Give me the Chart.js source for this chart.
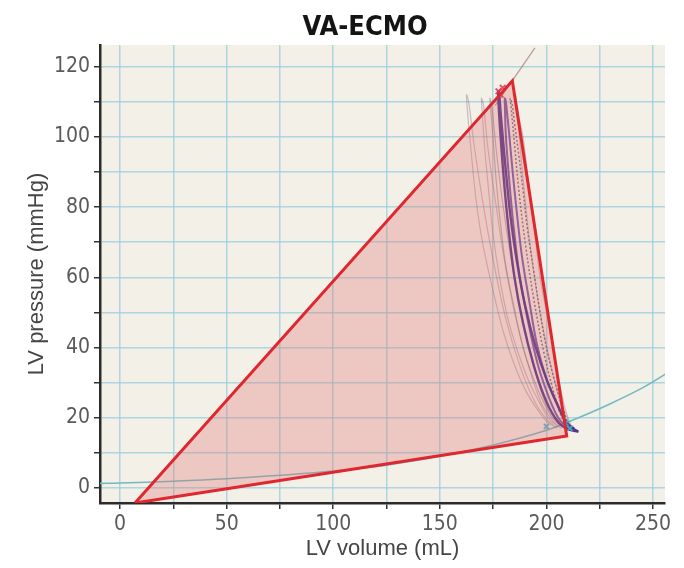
<!DOCTYPE html>
<html>
<head>
<meta charset="utf-8">
<script src="https://cdn.jsdelivr.net/npm/chart.js@4.4.0/dist/chart.umd.min.js"></script>
<style>
  html, body { margin: 0; padding: 0; background: #ffffff; }
  canvas { display: block; }
</style>
</head>
<body>
<canvas id="pv" width="684" height="568"></canvas>
<script>
// Axis ticks (mL / mmHg); only the labelled ones carry text
const volumeTicks = [0, 25, 50, 75, 100, 125, 150, 175, 200, 225, 250];
const volumeLabels = [0, 50, 100, 150, 200, 250];
const pressureTicks = [0, 10, 20, 30, 40, 50, 60, 70, 80, 90, 100, 110, 120];
const pressureLabels = [0, 20, 40, 60, 80, 100, 120];

// Triangle enclosing the loops: origin corner, end-systolic corner, end-diastolic corner
const triangleVol = [7, 184, 209.5, 7];
const trianglePrs = [-4.3, 116, 14.8, -4.3];

// End-systolic pressure-volume relation, top segment
const espvrVol = [176, 194.6];
const espvrPrs = [109, 125.4];

// End-diastolic pressure-volume relation
const edpvrVol = [-10, 0, 25, 50, 75, 100, 125, 150, 175, 200, 215, 230, 245, 256];
const edpvrPrs = [1.3, 1.4, 1.9, 2.6, 3.6, 4.8, 6.5, 9.0, 12.2, 16.4, 20.0, 24.0, 28.5, 32.5];

// Recorded beats
const beat1Vol = [215, 210, 205, 200, 195, 190, 186, 183, 181, 179.5, 178.5, 178, 177.5, 177.5, 178.5, 180, 182, 185, 189, 194, 199, 204, 209, 215];
const beat1Prs = [16, 18, 24, 31, 40, 52, 65, 78, 90, 100, 107, 111, 113, 110, 100, 88, 75, 60, 47, 35, 26, 20, 17, 16];
const beat2Vol = [213, 209, 204, 199.5, 195.5, 192, 188.5, 186, 184, 182.5, 181.5, 181, 180.5, 180.5, 181, 182.5, 184.5, 187.5, 191.5, 196, 201, 205.5, 209.5, 213];
const beat2Prs = [17, 19, 25, 32, 41, 53, 66, 79, 91, 101, 107, 110, 111, 109, 100, 88, 75, 60, 47, 35, 26, 20, 17.5, 17];
const beat3Vol = [211, 208, 204, 200, 197, 194, 191, 189, 187, 185, 184, 183, 183.5, 185, 187, 190, 194, 199, 204, 208, 211];
const beat3Prs = [17, 22, 30, 40, 50, 62, 74, 85, 95, 104, 109, 111, 108, 98, 85, 70, 54, 38, 26, 19, 17];
const beat4Vol = [205, 200, 195, 190, 185, 180, 175, 170, 167, 164.5, 163, 162.5, 163.5, 166, 170, 175, 181, 188, 195, 201, 205];
const beat4Prs = [17, 19, 23, 28, 35, 44, 56, 70, 82, 97, 107, 112, 110, 98, 82, 65, 48, 34, 24, 19, 17];
const beat5Vol = [207, 202, 197, 192, 187, 182, 178, 175, 173, 171, 170, 169.5, 170.5, 172.5, 176, 180, 185, 191, 197, 203, 207];
const beat5Prs = [17, 19, 24, 30, 38, 48, 60, 72, 84, 97, 106, 111, 109, 97, 82, 66, 50, 36, 25, 19, 17];
const beat6Vol = [212, 209, 206, 203, 200, 197, 195, 193, 191, 189, 187, 186, 185.5, 186.5, 188, 190, 193, 197, 202, 207, 212];
const beat6Prs = [17, 22, 30, 40, 50, 60, 70, 80, 90, 100, 106, 110, 112, 106, 95, 82, 66, 50, 35, 24, 17];
const beat7Vol = [209, 204, 199, 194, 189, 185, 181, 178.5, 176.5, 175, 174, 173.5, 174.5, 176.5, 179.5, 183.5, 188, 193.5, 199, 204, 209];
const beat7Prs = [17, 19, 24, 31, 40, 51, 63, 75, 87, 99, 107, 111, 108, 96, 81, 65, 50, 36, 25, 19, 17];

// Beat markers: end-systole (top) and end-diastole (bottom)
const esMarkVol = [177.5, 178.5, 179.5];
const esMarkPrs = [113, 112, 114];
const edMarkVol = [200, 209, 211];
const edMarkPrs = [17.5, 18.5, 17];

const pts = (xs, ys) => xs.map((x, i) => ({ x: x, y: ys[i] }));

const beatLine = (xs, ys, color, width, dash, order) => ({
  data: pts(xs, ys),
  showLine: true,
  borderColor: color,
  borderWidth: width,
  borderDash: dash || [],
  pointRadius: 0,
  tension: 0.35,
  fill: false,
  order: order
});

// Paints the plotting area and places the heading
const plotBackground = {
  id: 'plotBackground',
  beforeDraw(chart) {
    const { ctx, chartArea: a } = chart;
    ctx.save();
    ctx.fillStyle = '#f3f0e7';
    ctx.fillRect(a.left, a.top, a.right - a.left, a.bottom - a.top);
    ctx.restore();
  },
  afterDraw(chart) {
    const ctx = chart.ctx;
    ctx.save();
    ctx.font = 'bold 27px "Liberation Sans Narrow", "DejaVu Sans Condensed", sans-serif';
    ctx.fillStyle = '#141414';
    ctx.textAlign = 'center';
    ctx.textBaseline = 'middle';
    ctx.fillText('VA-ECMO', 365, 28);
    ctx.restore();
  }
};

const tickFont = { family: '"Liberation Sans Narrow", "DejaVu Sans Condensed", sans-serif', size: 21 };
const titleFont = { family: '"Liberation Sans", Arial, sans-serif', size: 22 };

new Chart(document.getElementById('pv'), {
  type: 'scatter',
  data: {
    datasets: [
      {
        data: pts(triangleVol, trianglePrs),
        showLine: true,
        borderColor: '#e0262e',
        borderWidth: 3,
        backgroundColor: 'rgba(226, 108, 108, 0.30)',
        fill: 'shape',
        pointRadius: 0,
        tension: 0,
        order: 1
      },
      {
        data: pts(espvrVol, espvrPrs),
        showLine: true,
        borderColor: 'rgba(165, 130, 130, 0.75)',
        borderWidth: 1.3,
        pointRadius: 0,
        fill: false,
        order: 9
      },
      {
        data: pts(edpvrVol, edpvrPrs),
        showLine: true,
        borderColor: '#74b9c2',
        borderWidth: 1.6,
        pointRadius: 0,
        tension: 0.4,
        fill: false,
        order: 8
      },
      beatLine(beat4Vol, beat4Prs, 'rgba(140, 105, 125, 0.40)', 1.2, null, 7),
      beatLine(beat5Vol, beat5Prs, 'rgba(140, 105, 125, 0.40)', 1.2, null, 7),
      beatLine(beat7Vol, beat7Prs, 'rgba(120, 95, 115, 0.45)', 1.2, null, 7),
      beatLine(beat6Vol, beat6Prs, 'rgba(140, 105, 125, 0.40)', 1.2, null, 7),
      beatLine(beat3Vol, beat3Prs, 'rgba(75, 60, 80, 0.70)', 1.5, [2, 2], 5),
      beatLine(beat2Vol, beat2Prs, 'rgba(95, 65, 160, 0.85)', 2.0, null, 4),
      beatLine(beat1Vol, beat1Prs, 'rgba(65, 35, 130, 0.90)', 2.4, null, 3),
      {
        data: pts(esMarkVol, esMarkPrs),
        pointStyle: 'crossRot',
        pointRadius: 4,
        pointBorderWidth: 2,
        borderColor: 'rgba(215, 50, 70, 0.8)',
        backgroundColor: 'rgba(215, 50, 70, 0.8)',
        order: 2
      },
      {
        data: pts(edMarkVol, edMarkPrs),
        pointStyle: 'crossRot',
        pointRadius: 3.5,
        pointBorderWidth: 2,
        borderColor: 'rgba(70, 175, 200, 0.85)',
        backgroundColor: 'rgba(70, 175, 200, 0.85)',
        order: 2
      }
    ]
  },
  options: {
    responsive: false,
    animation: false,
    events: [],
    layout: { padding: { top: 45, right: 19, bottom: 0, left: 0 } },
    plugins: {
      legend: { display: false },
      tooltip: { enabled: false },
      title: { display: false }
    },
    scales: {
      x: {
        type: 'linear',
        min: -9.4,
        max: 255.6,
        afterBuildTicks: (s) => { s.ticks = volumeTicks.map(v => ({ value: v })); },
        afterFit: (s) => { s.height = 65; },
        ticks: {
          autoSkip: false,
          maxRotation: 0,
          padding: 3,
          color: '#5a5a5a',
          font: tickFont,
          callback: (v) => volumeLabels.includes(v) ? String(v) : ''
        },
        grid: {
          color: 'rgba(150, 205, 222, 0.75)',
          lineWidth: 1.5,
          drawTicks: true,
          tickLength: 6,
          tickColor: '#333333',
          tickWidth: 1.5
        },
        border: { display: true, color: '#2b2b2b', width: 2.5 },
        title: {
          display: true,
          text: 'LV volume (mL)',
          color: '#454545',
          font: titleFont,
          padding: { top: 0, bottom: 6 }
        }
      },
      y: {
        type: 'linear',
        min: -4.3,
        max: 126.2,
        afterBuildTicks: (s) => { s.ticks = pressureTicks.map(v => ({ value: v })); },
        afterFit: (s) => { s.width = 100; },
        ticks: {
          autoSkip: false,
          padding: 4,
          color: '#5a5a5a',
          font: tickFont,
          callback: (v) => pressureLabels.includes(v) ? String(v) : ''
        },
        grid: {
          color: 'rgba(150, 205, 222, 0.75)',
          lineWidth: 1.5,
          drawTicks: true,
          tickLength: 6,
          tickColor: '#333333',
          tickWidth: 1.5
        },
        border: { display: true, color: '#2b2b2b', width: 2.5 },
        title: {
          display: true,
          text: 'LV pressure (mmHg)',
          color: '#454545',
          font: titleFont,
          padding: { top: 24, bottom: 0 }
        }
      }
    }
  },
  plugins: [plotBackground]
});
</script>
</body>
</html>
